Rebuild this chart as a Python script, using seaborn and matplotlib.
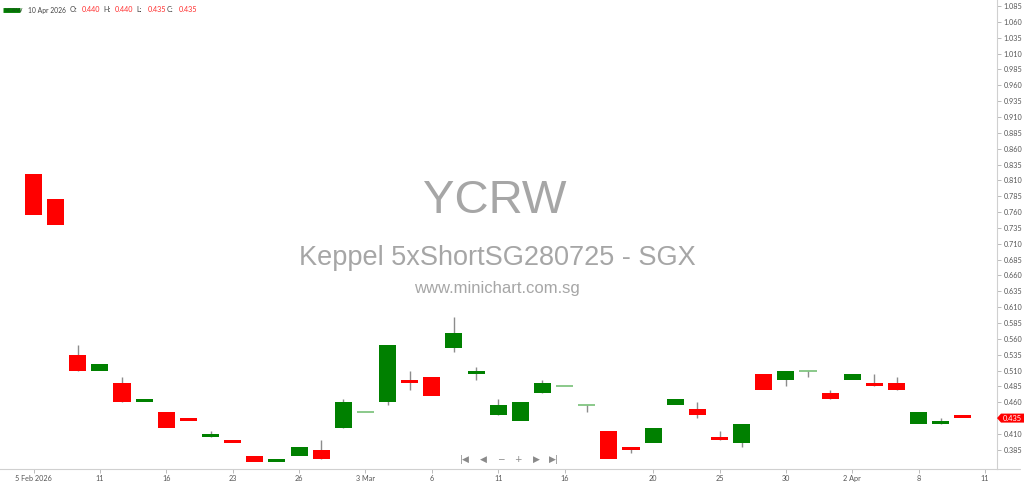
import numpy as np
import pandas as pd
import matplotlib
matplotlib.use("Agg")
import matplotlib.pyplot as plt
from matplotlib.patches import Polygon
import seaborn as sns

# ---------------- data ----------------
opens  = [0.820, 0.780, 0.535, 0.510, 0.490, 0.460, 0.445, 0.435, 0.405, 0.400,
          0.375, 0.365, 0.375, 0.385, 0.420, 0.445, 0.460, 0.495, 0.500, 0.545,
          0.505, 0.440, 0.430, 0.475, 0.485, 0.455, 0.415, 0.390, 0.395, 0.455,
          0.450, 0.405, 0.395, 0.505, 0.495, 0.510, 0.475, 0.495, 0.490, 0.490,
          0.425, 0.425, 0.440]
highs  = [0.820, 0.780, 0.550, 0.520, 0.500, 0.465, 0.445, 0.435, 0.415, 0.400,
          0.375, 0.370, 0.390, 0.400, 0.465, 0.445, 0.550, 0.510, 0.500, 0.595,
          0.515, 0.465, 0.460, 0.495, 0.485, 0.455, 0.415, 0.390, 0.420, 0.465,
          0.460, 0.415, 0.425, 0.505, 0.510, 0.510, 0.480, 0.505, 0.505, 0.500,
          0.445, 0.435, 0.440]
lows   = [0.755, 0.740, 0.510, 0.510, 0.460, 0.460, 0.420, 0.430, 0.405, 0.395,
          0.365, 0.365, 0.375, 0.370, 0.420, 0.445, 0.455, 0.480, 0.470, 0.540,
          0.495, 0.440, 0.430, 0.475, 0.485, 0.445, 0.370, 0.380, 0.395, 0.455,
          0.435, 0.400, 0.390, 0.480, 0.485, 0.500, 0.465, 0.495, 0.485, 0.480,
          0.425, 0.425, 0.435]
closes = [0.755, 0.740, 0.510, 0.520, 0.460, 0.465, 0.420, 0.430, 0.410, 0.395,
          0.365, 0.370, 0.390, 0.370, 0.460, 0.445, 0.550, 0.490, 0.470, 0.570,
          0.510, 0.455, 0.460, 0.490, 0.485, 0.455, 0.370, 0.385, 0.420, 0.465,
          0.440, 0.400, 0.425, 0.480, 0.510, 0.510, 0.465, 0.505, 0.485, 0.480,
          0.445, 0.430, 0.435]

tick_positions = [0, 3, 6, 9, 12, 15, 18, 21, 24, 28, 31, 34, 37, 40, 43]
tick_labels = ["5 Feb 2026", "11", "16", "23", "26", "3 Mar", "6", "11", "16",
               "20", "25", "30", "2 Apr", "8", "11"]

y_ticks = np.round(np.arange(0.385, 1.0851, 0.025), 3)

symbol = "YCRW"
title = "Keppel 5xShortSG280725 - SGX"
site = "www.minichart.com.sg"
last_date = "10 Apr 2026"

df = pd.DataFrame({"open": opens, "high": highs, "low": lows, "close": closes})
df["idx"] = np.arange(len(df))

# ---------------- style ----------------
sns.set_theme(style="white")
plt.rcParams["font.family"] = ["Lato", "DejaVu Sans"]

GREEN = "#008000"
RED = "#ff0000"
DOJI = "#77c077"
WICK = "#8c8c8c"
AXC = "#d0d0d0"

W, H = 1024, 484
fig = plt.figure(figsize=(W / 100, H / 100), dpi=100)
ax = fig.add_axes([0, 15 / H, 997 / W, 469 / H])

def fx(px):
    return px / W

def fy(py):
    return 1 - py / H

# watermark
fig.text(fx(495), fy(201), symbol, ha="center", va="center", fontsize=34,
         color="#a6a6a6", family=["Liberation Sans", "DejaVu Sans"], zorder=0)
fig.text(fx(497), fy(258), title, ha="center", va="center", fontsize=19.5,
         color="#a6a6a6", family=["Liberation Sans", "DejaVu Sans"], zorder=0)
fig.text(fx(497), fy(289), site, ha="center", va="center", fontsize=12,
         color="#a6a6a6", family=["Liberation Sans", "DejaVu Sans"], zorder=0)
ax.set_zorder(1)
ax.patch.set_alpha(0)

# candles
bw = 0.77
for _, r in df.iterrows():
    i = r["idx"]
    o, h, l, c = r["open"], r["high"], r["low"], r["close"]
    if h > max(o, c) or l < min(o, c):
        ax.vlines(i, l, h, color=WICK, lw=1, zorder=2)
    if abs(c - o) < 1e-9:
        ax.hlines(o, i - bw / 2, i + bw / 2, color=DOJI, lw=1.2, zorder=3)
    else:
        col = GREEN if c > o else RED
        ax.bar(i, abs(c - o), bottom=min(o, c), width=bw, color=col,
               edgecolor="none", zorder=3)

ax.set_xlim(-1.514, 43.54)
ax.set_ylim(0.3547, 1.0945)

ax.yaxis.tick_right()
ax.set_yticks(y_ticks)
ax.set_yticklabels([f"{v:.3f}" for v in y_ticks])
ax.set_xticks(tick_positions)
ax.set_xticklabels(tick_labels)
ax.tick_params(axis="y", which="both", right=True, left=False, length=3,
               width=0.6, color="#b0b0b0", labelsize=5.2, labelcolor="#555555", pad=1.5)
ax.tick_params(axis="x", which="both", bottom=True, length=3, width=0.6,
               color="#b0b0b0", labelsize=5.2, labelcolor="#555555", pad=1.5)
for s in ["top", "left"]:
    ax.spines[s].set_visible(False)
for s in ["right", "bottom"]:
    ax.spines[s].set_color(AXC)
    ax.spines[s].set_linewidth(0.8)
ax.grid(False)
ax.set_xlabel("")
ax.set_ylabel("")

# extend bottom line past right axis
fig.add_artist(plt.Line2D([fx(997), fx(1020)], [fy(469), fy(469)], color=AXC,
                          lw=0.8, transform=fig.transFigure))

# last price tag
lp = closes[-1]
yb = ax.transData.transform((0, lp))[1]
fig_h = yb / H
tag = Polygon([[fx(997), fig_h], [fx(1001), fig_h + 4.5 / H], [fx(1024), fig_h + 4.5 / H],
               [fx(1024), fig_h - 4.5 / H], [fx(1001), fig_h - 4.5 / H]],
              closed=True, transform=fig.transFigure, facecolor=RED,
              edgecolor="none", zorder=10)
fig.add_artist(tag)
fig.text(fx(1012), fig_h, f"{lp:.3f}", ha="center", va="center", fontsize=5.4,
         color="white", zorder=11)

# navigation icons
nav = ["|◀", "◀", "−", "+", "▶", "▶|"]
nav_x = [465, 483, 501, 518, 536, 554]
for t, xx in zip(nav, nav_x):
    fig.text(fx(xx), fy(459), t, ha="center", va="center", fontsize=6.5,
             color="#8a8a8a", family=["DejaVu Sans"])

# header
fig.add_artist(plt.Line2D([fx(3), fx(20)], [fy(10), fy(10)], color=GREEN, lw=3.5,
                          transform=fig.transFigure, solid_capstyle="butt"))
fig.text(fx(4), fy(10), symbol, ha="left", va="center", fontsize=4.5, color="#1a4d1a")
hy = fy(10)
fig.text(fx(28), hy, last_date, ha="left", va="center", fontsize=4.9, color="#444444")
parts = [("O:", 70, opens[-1]), ("H:", 103, highs[-1]), ("L:", 136, lows[-1]),
         ("C:", 167, closes[-1])]
for lab, xx, val in parts:
    fig.text(fx(xx), hy, lab, ha="left", va="center", fontsize=5.2, color="#444444")
    fig.text(fx(xx + 12), hy, f"{val:.3f}", ha="left", va="center", fontsize=5.2,
             color="#ff2a2a")

fig.savefig("out.png", dpi=100, facecolor="white")
